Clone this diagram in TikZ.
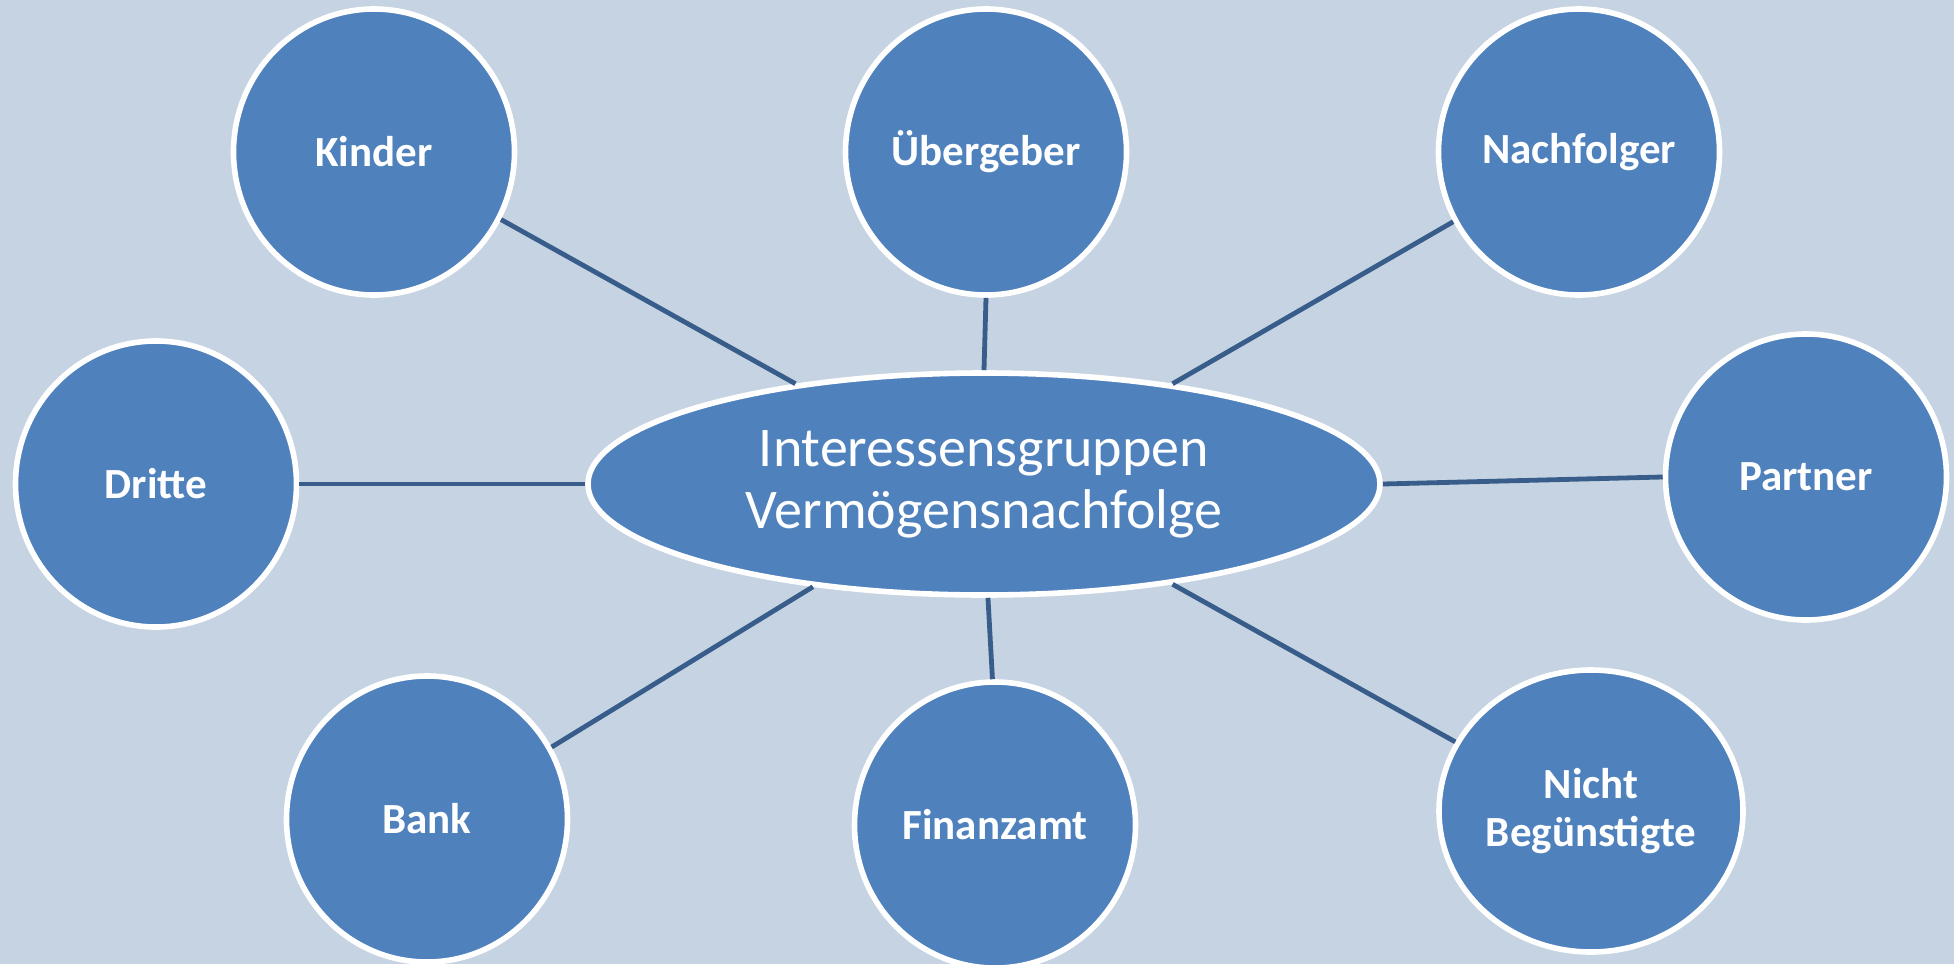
\documentclass[tikz,border=0pt]{standalone}
\usepackage{fontspec}
\setmainfont{Carlito}
\usetikzlibrary{shapes.geometric}
\definecolor{bgc}{RGB}{197,211,226}
\definecolor{nodec}{RGB}{79,129,189}
\definecolor{linec}{RGB}{56,93,138}
\tikzset{
  stake/.style={ellipse, fill=nodec, draw=white, line width=2.8pt, inner sep=0pt,
    minimum width=140.5pt, minimum height=143pt, text=white,
    font=\fontsize{21.5}{24}\selectfont\bfseries, align=center},
  hub/.style={ellipse, fill=nodec, draw=white, line width=2.8pt, inner sep=0pt,
    minimum width=396pt, minimum height=111pt, text=white,
    font=\fontsize{28}{31}\selectfont, align=center},
  conn/.style={draw=linec, line width=2.4pt}
}
\begin{document}
\begin{tikzpicture}[x=0.5pt,y=-0.5pt]
\path[use as bounding box, fill=bgc] (0,0) rectangle (1954,964);
\node[hub] (c) at (984,484) {Interessensgruppen\\Vermögensnachfolge};
\node[stake] (kinder) at (374,152) {Kinder};
\node[stake] (ueber) at (986,152) {Übergeber};
\node[stake] (nach) at (1579,152) {Nachfolger};
\node[stake] (dritte) at (156,484) {Dritte};
\node[stake] (partner) at (1806,477) {Partner};
\node[stake] (bank) at (427,819) {Bank};
\node[stake] (fin) at (995,825) {Finanzamt};
\node[stake, minimum width=152pt, minimum height=141pt] (nicht) at (1591,811) {Nicht\\Begünstigte};
\draw[conn] (kinder.-28.5) -- (c.152);
\draw[conn] (ueber.south) -- (c.north);
\draw[conn] (nach.-151.2) -- (c.28.5);
\draw[conn] (dritte.east) -- (c.west);
\draw[conn] (c.east) -- (partner.west);
\draw[conn] (bank.30.8) -- (c.-149);
\draw[conn] (fin.91) -- (c.-88);
\draw[conn] (nicht.153) -- (c.-28.5);
\end{tikzpicture}
\end{document}
